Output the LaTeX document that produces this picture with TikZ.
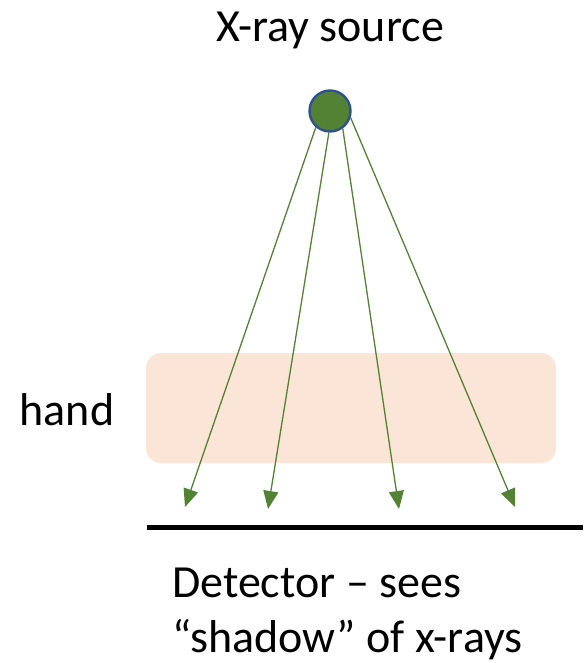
\documentclass[tikz,border=0pt]{standalone}
\usepackage{fontspec}
\setmainfont{Carlito}
\usetikzlibrary{arrows.meta,positioning}
\definecolor{raygreen}{HTML}{548235}
\definecolor{rimblue}{HTML}{2F528F}
\definecolor{skinpink}{HTML}{FBE5D6}

\begin{document}
\begin{tikzpicture}[x=1pt,y=-1pt,
  lbl/.style={font=\fontsize{46}{55}\selectfont,inner sep=0pt},
  ray/.style={raygreen,line width=1.3pt,-{Triangle[length=18pt,width=15pt]}}]
  \useasboundingbox (0,0) rectangle (583,663);
  % hand (under the rays)
  \fill[skinpink,rounded corners=15pt] (146,353) rectangle (556,463);
  \node[lbl,anchor=base] (handlbl) at (67,425){hand};
  % source
  \node[circle,draw=rimblue,fill=raygreen,line width=2.4pt,minimum size=41pt,inner sep=0pt] (src) at (330,111){};
  \node[lbl,anchor=base] (srclbl) at (330,42){X-ray source};
  % ray tips just above the detector
  \coordinate (t1) at (185,507);
  \coordinate (t2) at (268,509);
  \coordinate (t3) at (399,509);
  \coordinate (t4) at (515,507);
  \draw[ray] (src.229)--(t1);
  \draw[ray] (src.267)--(t2);
  \draw[ray] (src.306)--(t3);
  \draw[ray] (src.342)--(t4);
  % detector
  \coordinate (detl) at (147,527);
  \coordinate (detr) at (583,527);
  \draw[line width=5pt] (detl)--(detr);
  \node[lbl,anchor=base west,align=left] (detlbl) at (172,652){Detector -- sees\\``shadow'' of x-rays};
\end{tikzpicture}
\end{document}
